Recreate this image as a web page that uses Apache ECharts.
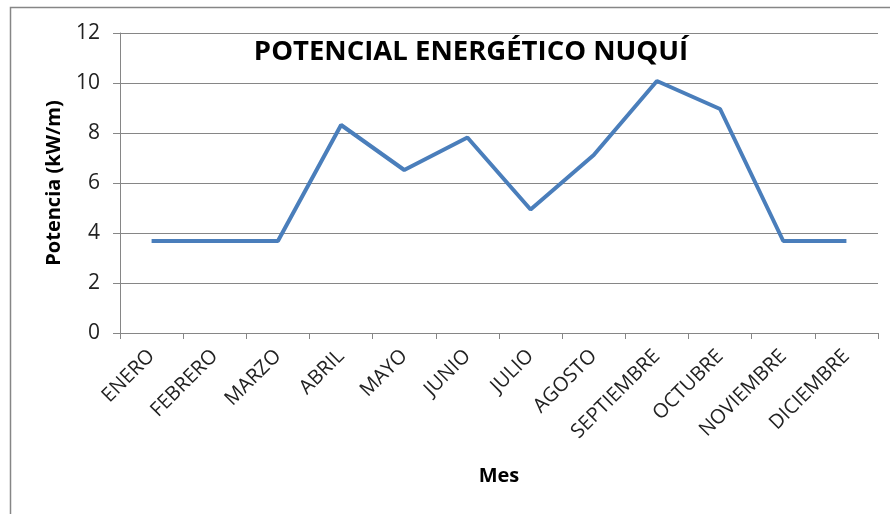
<!DOCTYPE html>
<html>
<head>
<meta charset="utf-8">
<script src="https://cdn.jsdelivr.net/npm/echarts@6/dist/echarts.min.js"></script>
<style>
	html, body { margin: 0; padding: 0; background: #fff; }
	#chart { width: 890px; height: 514px; }
</style>
</head>
<body>
<div id="chart"></div>
<script>
// datos del grafico
var meses = ['ENERO', 'FEBRERO', 'MARZO', 'ABRIL', 'MAYO', 'JUNIO', 'JULIO', 'AGOSTO', 'SEPTIEMBRE', 'OCTUBRE', 'NOVIEMBRE', 'DICIEMBRE'];
var potencia = [3.68, 3.68, 3.68, 8.32, 6.52, 7.82, 4.94, 7.12, 10.08, 8.96, 3.68, 3.68];
var yTicks = [0, 2, 4, 6, 8, 10, 12];

var myChart = echarts.init(document.getElementById('chart'));
var option = {
	animation: false,
	textStyle: { fontFamily: 'Open Sans' },
	title: {
		text: 'POTENCIAL ENERGÉTICO NUQUÍ',
		left: 466,
		top: 33,
		textAlign: 'center',
		textStyle: { fontSize: 27.5, fontWeight: 'bold', color: '#000', fontFamily: 'Open Sans' }
	},
	graphic: [{
		type: 'rect',
		shape: { x: 10.5, y: 7.5, width: 900, height: 600 },
		style: { fill: 'none', stroke: '#868686', lineWidth: 1.5 },
		silent: true
	}],
	grid: { left: 120, right: 12, top: 33, bottom: 181 },
	xAxis: {
		type: 'category',
		data: meses,
		boundaryGap: true,
		name: 'Mes',
		nameLocation: 'middle',
		nameGap: 133,
		nameTextStyle: { fontSize: 20, fontWeight: 'bold', color: '#000' },
		axisLine: { lineStyle: { color: '#868686', width: 1 } },
		axisTick: { show: true, length: 6, lineStyle: { color: '#868686' } },
		axisLabel: { rotate: 45, fontSize: 20, color: '#222', margin: 20, interval: 0 }
	},
	yAxis: {
		type: 'value',
		min: yTicks[0],
		max: yTicks[yTicks.length - 1],
		interval: 2,
		name: 'Potencia (kW/m)',
		nameLocation: 'middle',
		nameGap: 56,
		nameTextStyle: { fontSize: 20, fontWeight: 'bold', color: '#000' },
		axisLine: { show: true, lineStyle: { color: '#868686', width: 1 } },
		axisTick: { show: true, inside: false, length: 7, lineStyle: { color: '#868686' } },
		axisLabel: { fontSize: 21, color: '#222', margin: 20 },
		splitLine: { lineStyle: { color: '#868686', width: 1 } }
	},
	series: [{
		type: 'line',
		data: potencia,
		symbol: 'none',
		lineStyle: { color: '#4a7ebb', width: 4 },
		itemStyle: { color: '#4a7ebb' }
	}]
};
myChart.setOption(option);
</script>
</body>
</html>
